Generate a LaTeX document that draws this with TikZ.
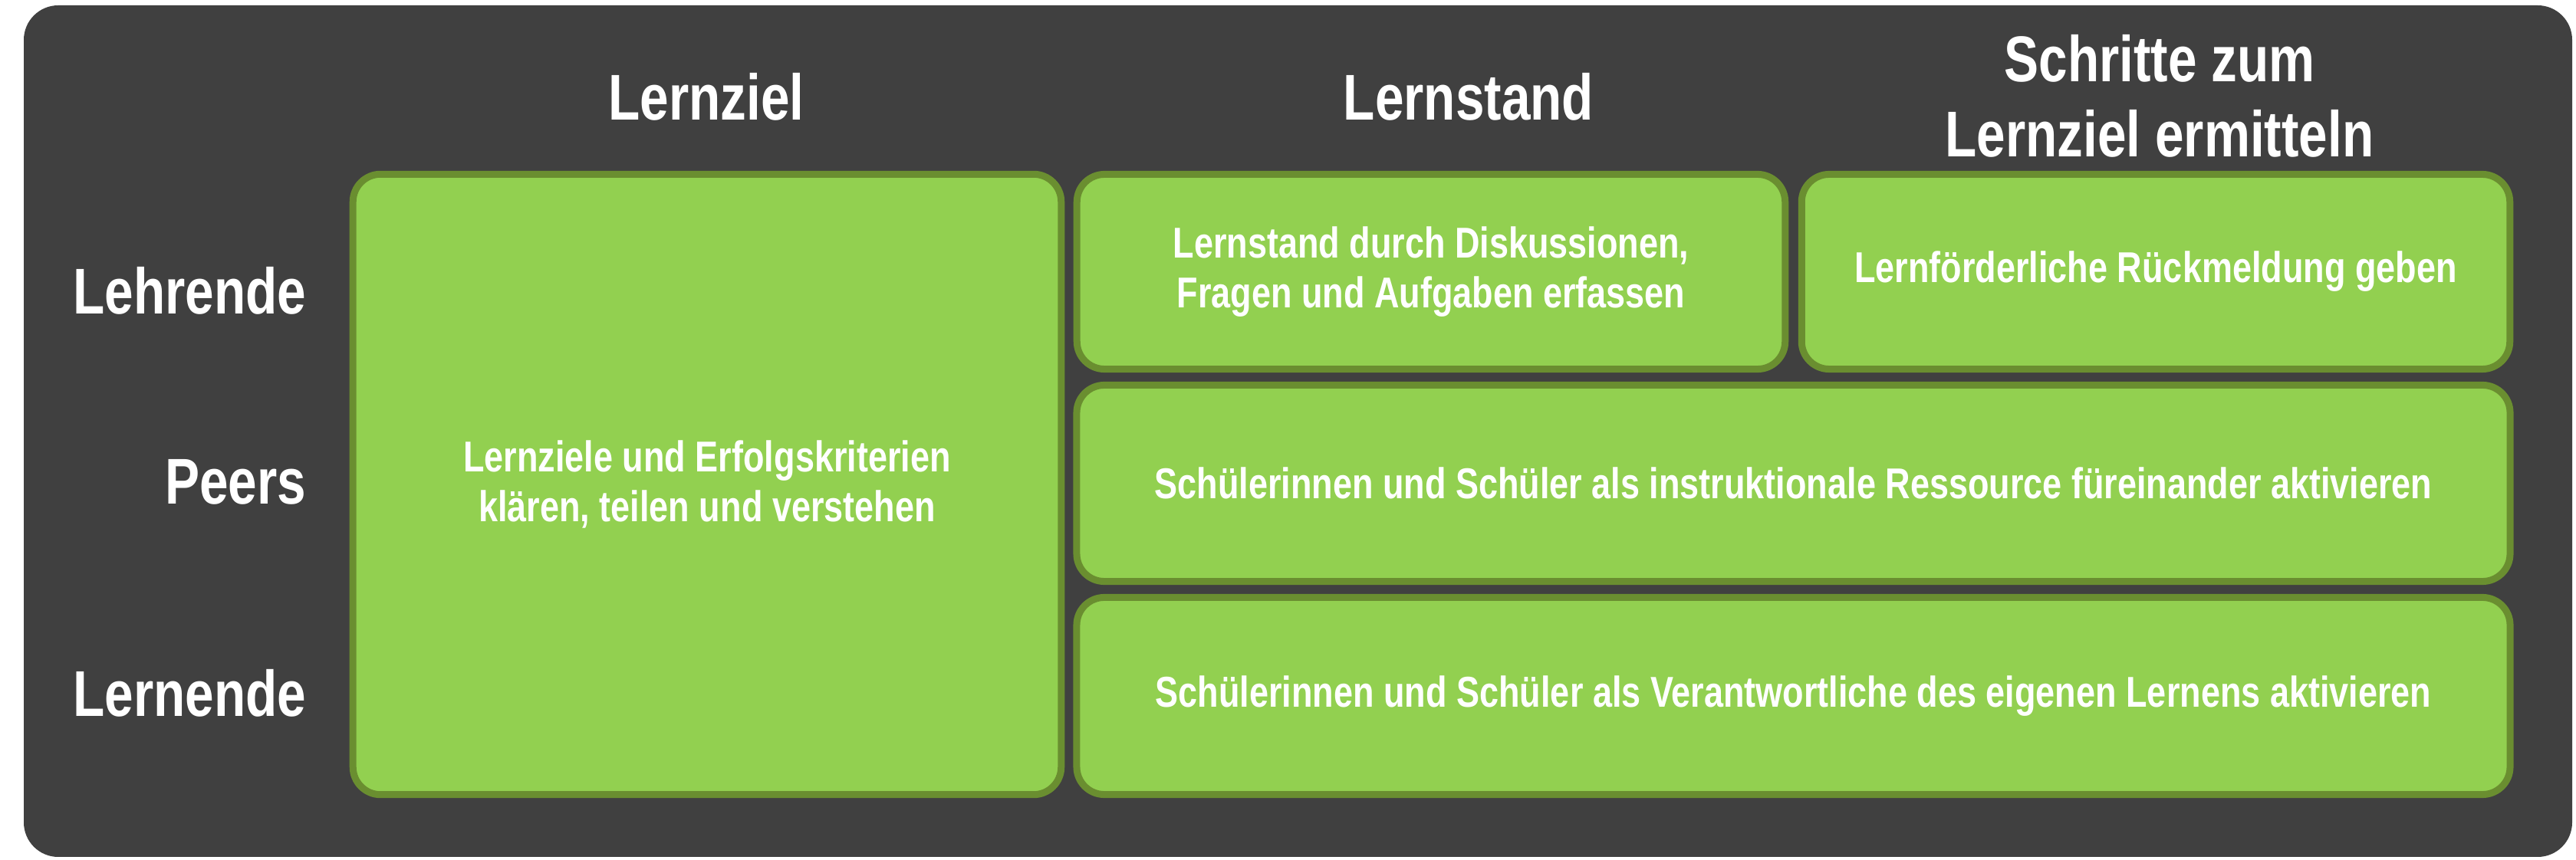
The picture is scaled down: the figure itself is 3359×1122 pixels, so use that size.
\documentclass[tikz,border=0pt]{standalone}
\usepackage{fontspec}
\setmainfont[FakeStretch=0.8]{Liberation Sans}
\usepackage{tikz}
\usetikzlibrary{positioning}
\definecolor{panel}{HTML}{404040}
\definecolor{leaf}{HTML}{92D050}
\definecolor{leafrim}{HTML}{6A8E30}

\begin{document}
\begin{tikzpicture}[x=0.01cm, y=-0.01cm, line join=round,
	cell/.style={draw=leafrim, fill=leaf, line width=0.09cm, rounded corners=0.36cm,
		text=white, align=center, inner sep=0pt,
		font=\fontsize{16}{18.7}\selectfont\bfseries},
	rowlabel/.style={text=white, anchor=base east, inner sep=0pt,
		font=\fontsize{24}{28}\selectfont\bfseries},
	colhead/.style={text=white, anchor=base, align=center, inner sep=0pt,
		font=\fontsize{24}{28}\selectfont\bfseries}]

\useasboundingbox (0,0) rectangle (3359,1122);
\fill[panel, rounded corners=0.45cm] (31,7) rectangle (3354,1118);

% column heads
\node[colhead] (hziel) at (921,157) {Lernziel};
\node[colhead] (hstand) at (1915,157) {Lernstand};
\node[colhead] (hschritte) at (2816,205) {Schritte zum\\Lernziel ermitteln};

% row labels
\node[rowlabel] (lehrende) at (400,410) {Lehrende};
\node[rowlabel] (peers) at (400,658) {Peers};
\node[rowlabel] (lernende) at (400,935) {Lernende};

% cells
\node[cell, minimum width=9.23cm, minimum height=8.09cm] (ziel) at (922,632)
	{Lernziele und Erfolgskriterien\\kl\"aren, teilen und verstehen};
\node[cell, minimum width=9.23cm, minimum height=2.54cm] (stand) at (1866,354.5)
	{Lernstand durch Diskussionen,\\Fragen und Aufgaben erfassen};
\node[cell, minimum width=9.23cm, minimum height=2.54cm] (rueck) at (2811,354.5)
	{Lernf\"orderliche R\"uckmeldung geben};
\node[cell, minimum width=18.68cm, minimum height=2.56cm] (ressource) at (2338.5,630.5)
	{Sch\"ulerinnen und Sch\"uler als instruktionale Ressource f\"ureinander aktivieren};
\node[cell, minimum width=18.68cm, minimum height=2.57cm] (eigen) at (2338.5,908)
	{Sch\"ulerinnen und Sch\"uler als Verantwortliche des eigenen Lernens aktivieren};

\end{tikzpicture}
\end{document}
